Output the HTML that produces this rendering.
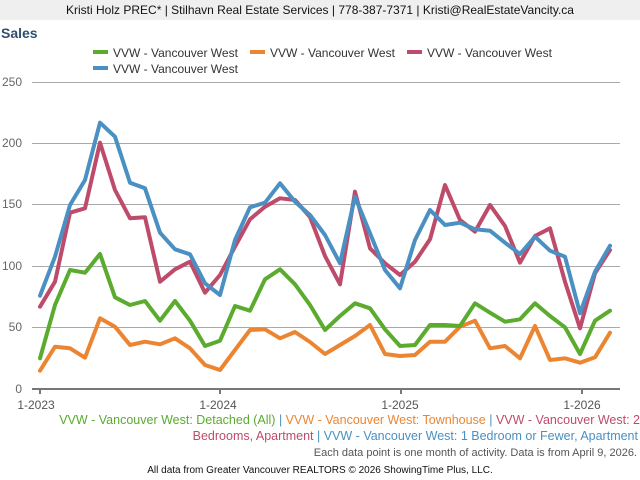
<!DOCTYPE html>
<html><head><meta charset="utf-8"><style>
body{margin:0;width:640px;height:480px;background:#fff;font-family:"Liberation Sans",sans-serif;overflow:hidden;position:relative}
.hdr{position:absolute;left:0;top:0;width:640px;height:20px;background:#efefef;color:#111;font-size:12px;line-height:20px;text-align:center}
</style></head><body>
<div class="hdr">Kristi Holz PREC* | Stilhavn Real Estate Services | 778-387-7371 | Kristi@RealEstateVancity.ca</div>
<svg width="640" height="480" style="position:absolute;left:0;top:0" font-family="Liberation Sans, sans-serif">
<text x="1" y="38" font-size="14" font-weight="bold" fill="#2f4f6f">Sales</text>
<g font-size="12" fill="#333">
<rect x="93" y="50" width="15" height="4" fill="#5aab2e"/><text x="113" y="57">VVW - Vancouver West</text>
<rect x="250" y="50" width="15" height="4" fill="#ec8532"/><text x="270" y="57">VVW - Vancouver West</text>
<rect x="407" y="50" width="15" height="4" fill="#bf4b6a"/><text x="427" y="57">VVW - Vancouver West</text>
<rect x="93" y="66" width="15" height="4" fill="#4a90c2"/><text x="113" y="73">VVW - Vancouver West</text>
</g>
<g stroke="#aaa" stroke-width="1">
<line x1="32" x2="620" y1="82.5" y2="82.5"/><line x1="32" x2="620" y1="143.5" y2="143.5"/>
<line x1="32" x2="620" y1="204.5" y2="204.5"/><line x1="32" x2="620" y1="266.5" y2="266.5"/>
<line x1="32" x2="620" y1="327.5" y2="327.5"/>
</g>
<line x1="32" x2="620" y1="389" y2="389" stroke="#777" stroke-width="2"/>
<g stroke="#777" stroke-width="2"><line x1="40" x2="40" y1="389" y2="394"/><line x1="220" x2="220" y1="389" y2="394"/><line x1="401" x2="401" y1="389" y2="394"/><line x1="582" x2="582" y1="389" y2="394"/></g>
<g font-size="12" fill="#666" text-anchor="end">
<text x="22" y="86">250</text><text x="22" y="147">200</text><text x="22" y="208">150</text><text x="22" y="270">100</text><text x="22" y="331">50</text><text x="22" y="393">0</text>
</g>
<g font-size="12" fill="#555" text-anchor="middle">
<text x="36" y="409">1-2023</text><text x="218" y="409">1-2024</text><text x="400" y="409">1-2025</text><text x="582" y="409">1-2026</text>
</g>
<g id="lines" fill="none" stroke-width="4" stroke-linejoin="round" stroke-linecap="round"></g>
<g font-size="12.5" text-anchor="end">
<text x="640" y="424"><tspan fill="#5aab2e">VVW - Vancouver West: Detached (All)</tspan><tspan fill="#4a90c2"> | </tspan><tspan fill="#ec8532">VVW - Vancouver West: Townhouse</tspan><tspan fill="#4a90c2"> | </tspan><tspan fill="#bf4b6a">VVW - Vancouver West: 2</tspan></text>
<text x="638" y="440"><tspan fill="#bf4b6a">Bedrooms, Apartment</tspan><tspan fill="#4a90c2"> | VVW - Vancouver West: 1 Bedroom or Fewer, Apartment</tspan></text>
<text x="637" y="456" font-size="11" fill="#555">Each data point is one month of activity. Data is from April 9, 2026.</text>
</g>
<text x="320" y="473" font-size="10" fill="#111" text-anchor="middle">All data from Greater Vancouver REALTORS © 2026 ShowingTime Plus, LLC.</text>
</svg>
<script>
var S=[
["#ec8532",[812,740,745,773,655,680,735,725,733,715,745,795,810,750,690,688,715,696,726,762,735,708,675,762,768,765,725,725,680,662,745,738,775,678,780,775,788,772,698]],
["#5aab2e",[775,615,510,518,462,592,615,603,662,603,662,738,722,618,632,538,508,553,615,690,648,610,625,688,738,735,675,675,678,610,638,665,658,610,648,682,762,662,632]],
["#bf4b6a",[620,545,338,325,128,270,355,352,545,508,485,578,525,440,358,320,295,300,351,468,553,275,445,490,525,485,418,255,360,395,315,378,488,408,385,545,685,520,450]],
["#4a90c2",[587,470,315,240,68,110,248,265,398,448,463,550,585,420,322,308,250,305,345,405,490,290,400,510,565,420,330,375,368,388,392,428,462,410,452,470,640,515,437]]
];
var g=document.getElementById('lines'),h='';
S.forEach(function(s){var p=s[1].map(function(v,i){return (40+15*i)+','+(100+v/3).toFixed(1)}).join(' ');
h+='<polyline stroke="'+s[0]+'" points="'+p+'"/>';});
g.innerHTML=h;
</script>
</body></html>
